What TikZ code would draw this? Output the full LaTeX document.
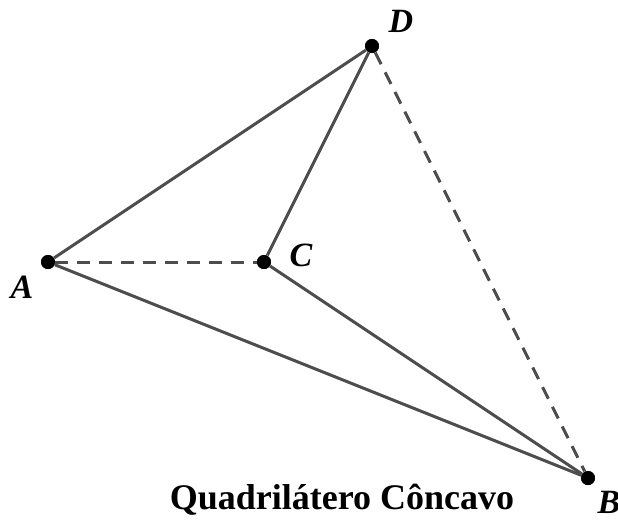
\documentclass[tikz,border=0pt]{standalone}
\usepackage{tikz}
\usepackage{fontspec}
\usepackage{xcolor}
\usetikzlibrary{positioning, calc}
\newfontfamily\capfont{Liberation Serif}
\definecolor{cEdge}{HTML}{4D4D4D}
\tikzset{
  vertex/.style   ={circle, fill=black, inner sep=0pt, minimum size=7pt},
  vlabel/.style   ={font=\capfont\fontsize{17}{19}\selectfont\bfseries\itshape, inner sep=1pt},
  side/.style     ={draw=cEdge, line width=1.5pt},
  diagonal/.style ={draw=cEdge, line width=1.5pt, dash pattern=on 6.5pt off 4.5pt},
  caption/.style  ={font=\capfont\fontsize{18}{21}\selectfont\bfseries}
}

\begin{document}
\begin{tikzpicture}[x=0.5pt, y=-0.5pt]
  \useasboundingbox (0,0) rectangle (618,521);

  % ====================== Vertices ======================
  \node[vertex] (ptA) at (48,262)  {};
  \node[vertex] (ptC) at (264,262) {};
  \node[vertex] (ptD) at (372,46)  {};
  \node[vertex] (ptB) at (588,478) {};

  \node[vlabel] (labA) at (22,287)  {A};
  \node[vlabel] (labC) at (301,255) {C};
  \node[vlabel] (labD) at (401,21)  {D};
  \node[vlabel] (labB) at (609,502) {B};

  % ====================== Diagonals ======================
  \draw[diagonal] (ptA) -- (ptC);
  \draw[diagonal] (ptD) -- (ptB);

  % ====================== Sides ======================
  \draw[side] (ptA) -- (ptD);
  \draw[side] (ptD) -- (ptC);
  \draw[side] (ptC) -- (ptB);
  \draw[side] (ptB) -- (ptA);

  % redraw dots on top
  \foreach \p in {ptA, ptB, ptC, ptD}
    \fill (\p) circle (3.5pt);

  % ====================== Title ======================
  \node[caption] (title) at (342,500) {Quadrilátero Côncavo};

\end{tikzpicture}
\end{document}
